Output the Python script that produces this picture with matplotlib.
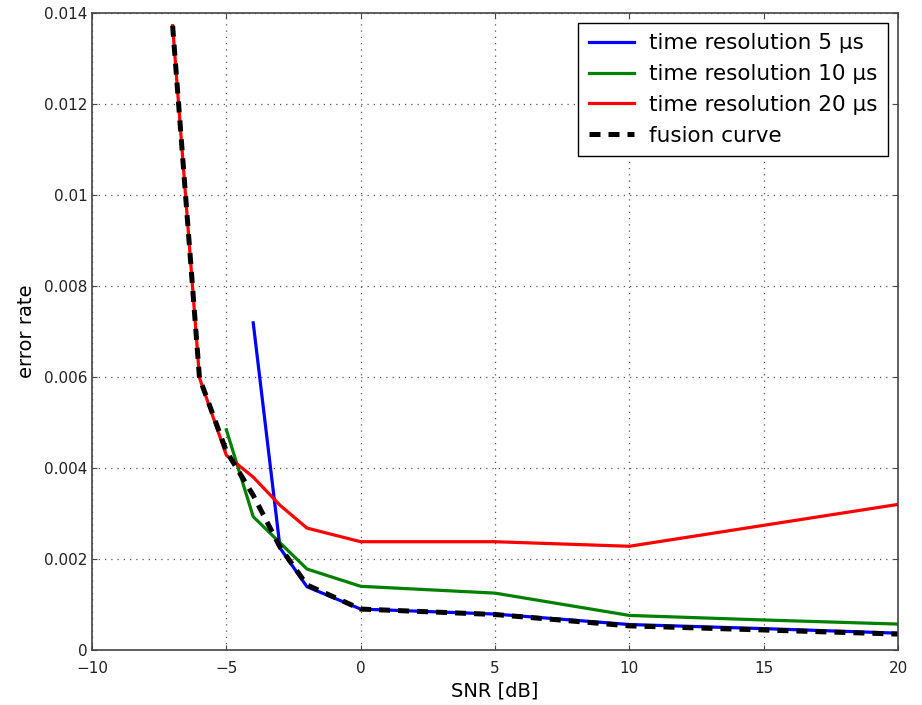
import matplotlib
matplotlib.use("Agg")
import matplotlib.pyplot as plt
from matplotlib.ticker import FuncFormatter

# SNR sample points per curve
snr_5 = [-4, -3, -2, 0, 5, 10, 15, 20]
err_5 = [0.00719, 0.00224, 0.00139, 0.00090, 0.00079, 0.00056, 0.00047, 0.00037]

snr_10 = [-5, -4, -2, 0, 5, 10, 15, 20]
err_10 = [0.00484, 0.00293, 0.00178, 0.00140, 0.00125, 0.00076, 0.00066, 0.00057]

snr_20 = [-7, -6, -5, -4, -3, -2, 0, 5, 10, 15, 20]
err_20 = [0.01372, 0.00598, 0.00428, 0.00380, 0.00318, 0.00268, 0.00238, 0.00238,
          0.00228, 0.00274, 0.00320]

snr_fus = [-7, -6, -5, -4, -3, -2, 0, 5, 10, 15, 20]
err_fus = [0.01372, 0.00598, 0.00437, 0.00340, 0.00226, 0.00143, 0.00090, 0.00078,
           0.00053, 0.00044, 0.00035]

labels = ["time resolution 5 \u03bcs", "time resolution 10 \u03bcs",
          "time resolution 20 \u03bcs", "fusion curve"]

fig = plt.figure(figsize=(9.22, 7.05), dpi=100)
ax = fig.add_axes([0.0998, 0.078, 0.8742, 0.9036])

ax.plot(snr_5, err_5, color="#0000ff", lw=2.3, label=labels[0])
ax.plot(snr_10, err_10, color="#008000", lw=2.3, label=labels[1])
ax.plot(snr_20, err_20, color="#ff0000", lw=2.3, label=labels[2])
ax.plot(snr_fus, err_fus, color="black", lw=3.6, ls=(0, (2.2, 1.6)),
        label=labels[3])

ax.set_xlim(-10, 20)
ax.set_ylim(0, 0.014)
ax.set_xticks([-10, -5, 0, 5, 10, 15, 20])
ax.set_yticks([0, 0.002, 0.004, 0.006, 0.008, 0.01, 0.012, 0.014])
ax.yaxis.set_major_formatter(FuncFormatter(lambda v, p: f"{v:g}"))
ax.tick_params(direction="in", labelsize=11, top=True, right=True,
               labelcolor="#222222", color="#444444")
ax.tick_params(axis="x", pad=8)
ax.tick_params(axis="y", pad=3)
for s in ax.spines.values():
    s.set_color("#444444")
    s.set_linewidth(1.2)
ax.grid(True, ls=(0, (1, 4)), color="#555555", lw=0.9)
ax.set_xlabel("SNR [dB]", fontsize=14, labelpad=4)
ax.set_ylabel("error rate", fontsize=14, labelpad=6)

leg = ax.legend(loc="upper right", fontsize=15.5, fancybox=False,
                framealpha=1, edgecolor="black", handlelength=2.1,
                handletextpad=0.7, borderaxespad=0.45, labelspacing=0.5,
                borderpad=0.5)
leg.get_frame().set_linewidth(1.0)

fig.savefig("out.png", dpi=100)
